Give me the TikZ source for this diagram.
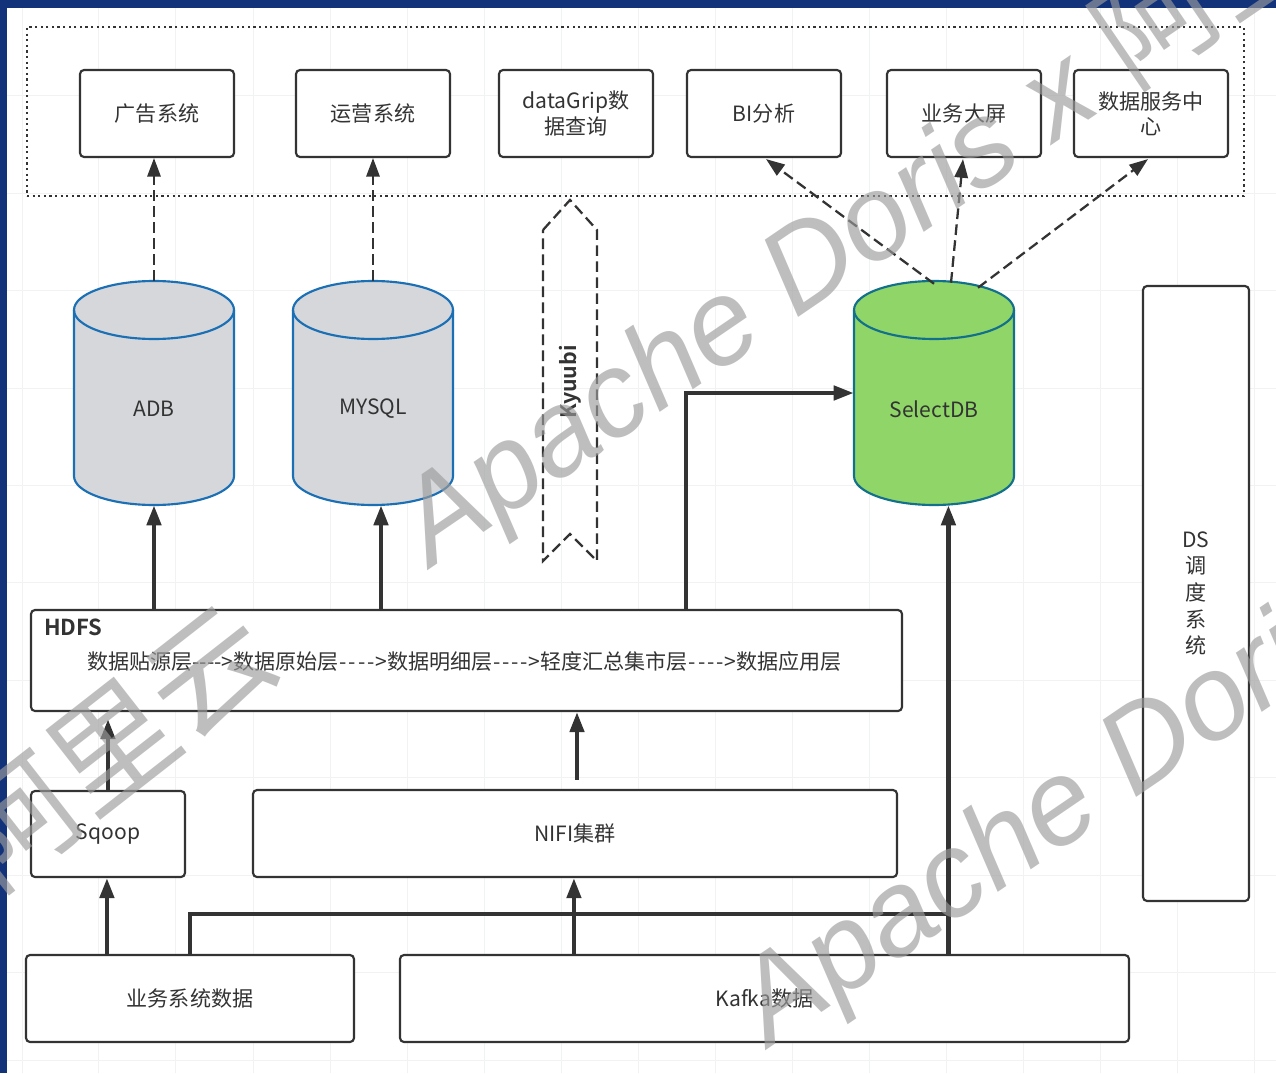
\documentclass[tikz,border=0pt]{standalone}
\usepackage{fontspec}
\setmainfont{Noto Sans CJK SC}[BoldFont={Noto Sans CJK SC Bold}]
\newfontfamily\wmfont{Liberation Sans}
\newfontfamily\wmcjk{Noto Sans CJK SC}
\usetikzlibrary{arrows.meta,calc}
\definecolor{ink}{HTML}{333333}
\definecolor{framec}{HTML}{12337A}
\definecolor{gridc}{HTML}{F1F3F3}
\definecolor{cylgray}{HTML}{D5D7DA}
\definecolor{cylgreen}{HTML}{8FD567}
\definecolor{cylblue}{HTML}{1B6FB5}
\definecolor{cylteal}{HTML}{12708C}
\definecolor{wmc}{HTML}{9C9C9C}
\tikzset{
  boxn/.style={draw=ink,line width=1.6pt,rounded corners=3pt,fill=white,inner sep=0pt,align=center,text=ink,font=\fontsize{15.8}{19}\selectfont},
  solidar/.style={draw=ink,line width=3.3pt,-{Triangle[length=15pt,width=10.5pt]}},
  solidln/.style={draw=ink,line width=3.3pt},
  dashar/.style={draw=ink,line width=1.7pt,dash pattern=on 8pt off 4pt,-{Triangle[length=14pt,width=10pt]}},
  cyllabel/.style={inner sep=0pt,text=ink,font=\fontsize{15.8}{19}\selectfont},
  watermark/.style={text=wmc,opacity=.65,inner sep=0pt,rotate=34.3,anchor=base west}
}
\newcommand{\rbox}[6]{\node[boxn,minimum width={(#4-#2)*.75pt},minimum height={(#5-#3)*.75pt}] (#1) at ({(#2+#4)/2},{(#3+#5)/2}) {#6};}
\newcommand{\cyl}[6]{%
  \filldraw[fill=#4,draw=#5,line width=1.6pt] (#2,310) arc[x radius=80,y radius=29,start angle=180,end angle=360] -- (#2+160,476) arc[x radius=80,y radius=29,start angle=0,end angle=180] -- cycle;
  \draw[draw=#5,line width=1.6pt] (#2,310) arc[x radius=80,y radius=29,start angle=180,end angle=0];
  \node[cyllabel,minimum width=120pt,minimum height=168pt] (#1) at (#2+80,393) {};
  \node[cyllabel] (#1t) at (#2+80,#3) {#6};}
\newcommand{\wdash}{\hspace{.7pt}{-}\hspace{1.35pt}{-}\hspace{1.35pt}{-}\hspace{1.35pt}{-}\hspace{.7pt}>}
\begin{document}
\begin{tikzpicture}[x=.75pt,y=-.75pt]
\useasboundingbox (0,0) rectangle (1276,1073);
\clip (0,0) rectangle (1276,1073);
\fill[white] (0,0) rectangle (1276,1073);
% faint grid
\foreach \g in {22,98,175,253,330,407,484,561,638,715,792,869,946,1023,1100,1177,1254}
  \draw[gridc,line width=.7pt] (\g,8) -- (\g,1073);
\foreach \g in {95,193,290,388,485,582,680,777,875,972,1060}
  \draw[gridc,line width=.7pt] (7,\g) -- (1276,\g);
% frame of the screenshot
\fill[framec] (0,0) rectangle (1276,8);
\fill[framec] (0,0) rectangle (7,1073);
% dotted area
\node[draw=ink,line width=1.6pt,dash pattern=on 1.6pt off 2.6pt,inner sep=0pt,minimum width={1217*.75pt},minimum height={169*.75pt}] (area) at (635.5,111.5) {};
% top boxes
\rbox{ad}{80}{70}{234}{157}{广告系统}
\rbox{ops}{296}{70}{450}{157}{运营系统}
\rbox{grip}{499}{70}{653}{157}{dataGrip数\\据查询}
\rbox{bi}{687}{70}{841}{157}{BI分析}
\rbox{screen}{887}{70}{1041}{157}{业务大屏}
\rbox{svc}{1074}{70}{1228}{157}{数据服务中\\心}
% cylinders
\cyl{adb}{74}{409}{cylgray}{cylblue}{ADB}
\cyl{mysql}{293}{409}{cylgray}{cylblue}{MYSQL}
\cyl{sdb}{854}{409}{cylgreen}{cylteal}{SelectDB}
% side box
\rbox{ds}{1143}{286}{1249}{901}{DS\\[1pt]调\\[1pt]度\\[1pt]系\\[1pt]统}
% lower boxes
\rbox{hdfs}{31}{610}{902}{711}{}
\rbox{sqoop}{31}{791}{185}{877}{Sqoop}
\rbox{nifi}{253}{790}{897}{877}{NIFI集群}
\rbox{biz}{26}{955}{354}{1042}{业务系统数据}
\rbox{kafka}{400}{955}{1129}{1042}{Kafka数据}
\node[inner sep=0pt,anchor=west,text=ink,font=\bfseries\fontsize{16.5}{18}\selectfont] (hdfslabel) at (44,627) {HDFS};
\node[inner sep=0pt,anchor=west,text=ink,font=\fontsize{15.8}{19}\selectfont] (layers) at (87,661) {数据贴源层{-}{-}{-}{-}>数据原始层\wdash 数据明细层\wdash 轻度汇总集市层\wdash 数据应用层};
% Kyuubi
\coordinate (ka) at (543,230);\coordinate (kb) at (570,200);\coordinate (kc) at (597,230);
\coordinate (kd) at (597,561);\coordinate (ke) at (570,534);\coordinate (kf) at (543,561);
\draw[draw=ink,line width=1.7pt,dash pattern=on 8pt off 4pt] (ka) -- (kb) -- (kc) -- (kd) -- (ke) -- (kf) -- cycle;
\node[rotate=90,inner sep=0pt,text=ink,font=\bfseries\fontsize{16}{17}\selectfont] (kyuubi) at (570,382) {Kyuubi};
% dashed connectors
\draw[dashar] (adb.north) -- (adb.north |- ad.south);
\draw[dashar] (mysql.north) -- (mysql.north |- ops.south);
\coordinate (s1) at ($(sdb.north)+(0,3)$);
\coordinate (s2) at ($(sdb.north)+(17,2)$);
\coordinate (s3) at ($(sdb.north)+(44,7)$);
\coordinate (t1) at ($(bi.south)+(2,1)$);
\coordinate (t2) at ($(screen.south)+(-1,1)$);
\coordinate (t3) at ($(svc.south)+(-3,1)$);
\draw[dashar] (s1) -- (t1);
\draw[dashar] (s2) -- (t2);
\draw[dashar] (s3) -- (t3);
% solid connectors
\coordinate (m1) at ($(mysql.south)+(8,0)$);
\coordinate (hs) at ($(hdfs.south west)+(76,7)$);
\coordinate (nt) at ($(nifi.north)+(2,-9)$);
\coordinate (nh) at (nt |- hdfs.south);
\coordinate (sk) at ($(kafka.north west)+(549.5,0)$);
\coordinate (sb) at (sk |- sdb.south);
\coordinate (bj) at ($(biz.north)+(0,0)$);
\coordinate (bh) at (bj |- 0,914);
\coordinate (kh) at (sk |- bh);
\coordinate (kn) at ($(kafka.north west)+(175,0)$);
\coordinate (kn2) at (kn |- nifi.south);
\coordinate (b1) at ($(biz.north west)+(82,0)$);
\draw[solidar] (adb.south |- hdfs.north) -- (adb.south);
\draw[solidar] (m1 |- hdfs.north) -- (m1);
\draw[solidar] (hdfs.north -| 686,0) -- (686,393) -- (sdb.west);
\draw[solidar] (sqoop.north) -- (sqoop.north |- hs);
\draw[solidar] (nt) -- (nh);
\draw[solidar] (b1) -- (b1 |- sqoop.south);
\draw[solidar] (kn) -- (kn2);
\draw[solidln] (bj) -- (bh) -- (kh);
\draw[solidar] (sk) -- (sb);
% watermarks
\node[watermark,font=\wmfont\itshape\fontsize{90}{90}\selectfont] (w1) at (432,568) {Apache Doris x \wmcjk 阿里};
\node[watermark,font=\wmfont\itshape\fontsize{90}{90}\selectfont] (w2) at (770,1048) {Apache Doris};
\node[watermark,rotate=3.7,font=\wmcjk\fontsize{92}{92}\selectfont] (w3) at (-5,895) {阿里云};
\end{tikzpicture}
\end{document}
